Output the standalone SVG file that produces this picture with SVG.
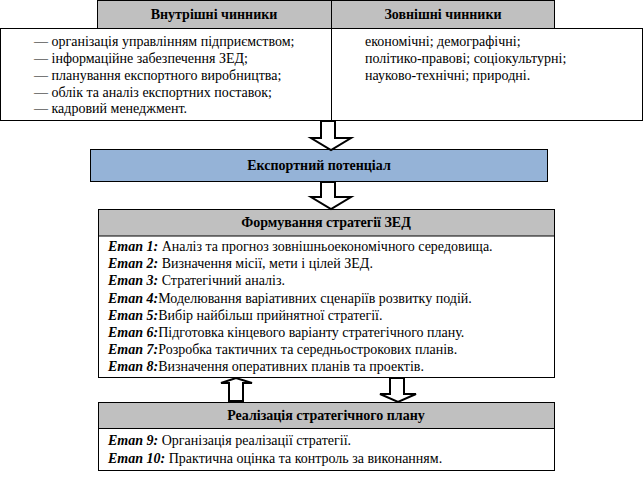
<svg xmlns="http://www.w3.org/2000/svg" width="644" height="477" viewBox="0 0 644 477">
<rect width="644" height="477" fill="#fff"/>
<g id="factors">
<rect fill="#c0c0c0" stroke="#000" stroke-width="1" x="97.5" y="0.5" width="457" height="28"/>
<rect fill="#fff" stroke="#000" stroke-width="1" x="0.5" y="28.5" width="642" height="92"/>
<line x1="331.5" y1="0.5" x2="331.5" y2="120.5" stroke="#000" stroke-width="1"/>
<text style="font-family:'Liberation Serif',serif" font-size="14" font-weight="bold" text-anchor="middle" x="214" y="19">Внутрішні чинники</text>
<text style="font-family:'Liberation Serif',serif" font-size="14" font-weight="bold" text-anchor="middle" x="443" y="19">Зовнішні чинники</text>
<text style="font-family:'Liberation Serif',serif" font-size="14" x="34" y="46">—  організація управлінням підприємством;</text>
<text style="font-family:'Liberation Serif',serif" font-size="14" x="34" y="63">—  інформаційне забезпечення ЗЕД;</text>
<text style="font-family:'Liberation Serif',serif" font-size="14" x="34" y="80">—  планування експортного виробництва;</text>
<text style="font-family:'Liberation Serif',serif" font-size="14" x="34" y="96.5">—  облік та аналіз експортних поставок;</text>
<text style="font-family:'Liberation Serif',serif" font-size="14" x="34" y="113">—  кадровий менеджмент.</text>
<text style="font-family:'Liberation Serif',serif" font-size="14" x="365" y="46">економічні; демографічні;</text>
<text style="font-family:'Liberation Serif',serif" font-size="14" x="365" y="63">політико-правові; соціокультурні;</text>
<text style="font-family:'Liberation Serif',serif" font-size="14" x="365" y="80">науково-технічні; природні.</text>
</g>

<g id="potential">
<rect fill="#95b3d7" stroke="#000" stroke-width="1" x="90.5" y="149.5" width="457" height="32"/>
<text style="font-family:'Liberation Serif',serif" font-size="14" font-weight="bold" text-anchor="middle" x="319" y="170">Експортний потенціал</text>
</g>

<g id="formation">
<rect fill="#fff" stroke="#000" stroke-width="1" x="98.5" y="209.5" width="456" height="168"/>
<rect fill="#c0c0c0" stroke="#000" stroke-width="1" x="98.5" y="209.5" width="456" height="26.5"/>
<text style="font-family:'Liberation Serif',serif" font-size="14" font-weight="bold" text-anchor="middle" x="326" y="227">Формування стратегії ЗЕД</text>
<text style="font-family:'Liberation Serif',serif" font-size="14" x="108" y="251"><tspan font-weight="bold" font-style="italic">Етап 1:</tspan> Аналіз та прогноз зовнішньоекономічного середовища.</text>
<text style="font-family:'Liberation Serif',serif" font-size="14" x="108" y="268"><tspan font-weight="bold" font-style="italic">Етап 2:</tspan> Визначення місії, мети і цілей ЗЕД.</text>
<text style="font-family:'Liberation Serif',serif" font-size="14" x="108" y="285"><tspan font-weight="bold" font-style="italic">Етап 3:</tspan> Стратегічний аналіз.</text>
<text style="font-family:'Liberation Serif',serif" font-size="14" x="108" y="302.5"><tspan font-weight="bold" font-style="italic">Етап 4:</tspan>Моделювання варіативних сценаріїв розвитку подій.</text>
<text style="font-family:'Liberation Serif',serif" font-size="14" x="108" y="319.5"><tspan font-weight="bold" font-style="italic">Етап 5:</tspan>Вибір найбільш прийнятної стратегії.</text>
<text style="font-family:'Liberation Serif',serif" font-size="14" x="108" y="336.5"><tspan font-weight="bold" font-style="italic">Етап 6:</tspan>Підготовка кінцевого варіанту стратегічного плану.</text>
<text style="font-family:'Liberation Serif',serif" font-size="14" x="108" y="353.5"><tspan font-weight="bold" font-style="italic">Етап 7:</tspan>Розробка тактичних та середньострокових планів.</text>
<text style="font-family:'Liberation Serif',serif" font-size="14" x="108" y="370.5"><tspan font-weight="bold" font-style="italic">Етап 8:</tspan>Визначення оперативних планів та проектів.</text>
</g>

<g id="realization">
<rect fill="#fff" stroke="#000" stroke-width="1" x="98.5" y="402.5" width="456" height="68"/>
<rect fill="#c0c0c0" stroke="#000" stroke-width="1" x="98.5" y="402.5" width="456" height="26"/>
<text style="font-family:'Liberation Serif',serif" font-size="14" font-weight="bold" text-anchor="middle" x="326" y="420">Реалізація стратегічного плану</text>
<text style="font-family:'Liberation Serif',serif" font-size="14" x="108" y="444.5"><tspan font-weight="bold" font-style="italic">Етап 9:</tspan> Організація реалізації стратегії.</text>
<text style="font-family:'Liberation Serif',serif" font-size="14" x="108" y="462.5"><tspan font-weight="bold" font-style="italic">Етап 10:</tspan> Практична оцінка та контроль за виконанням.</text>
</g>

<g id="connectors" fill="#fff" stroke="#000" stroke-width="2">
<polygon points="321,121 321,138 311,138 331,150 351,138 335,138 335,121"/>
<polygon points="321,182 321,197 311,197 331,209 351,197 335,197 335,182"/>
<polygon points="229,401 229,383 221,383 236,378 252,383 243,383 243,401"/>
<polygon points="390,378 390,394 380,394 398,402 416,394 404,394 404,378"/>
</g>
</svg>
